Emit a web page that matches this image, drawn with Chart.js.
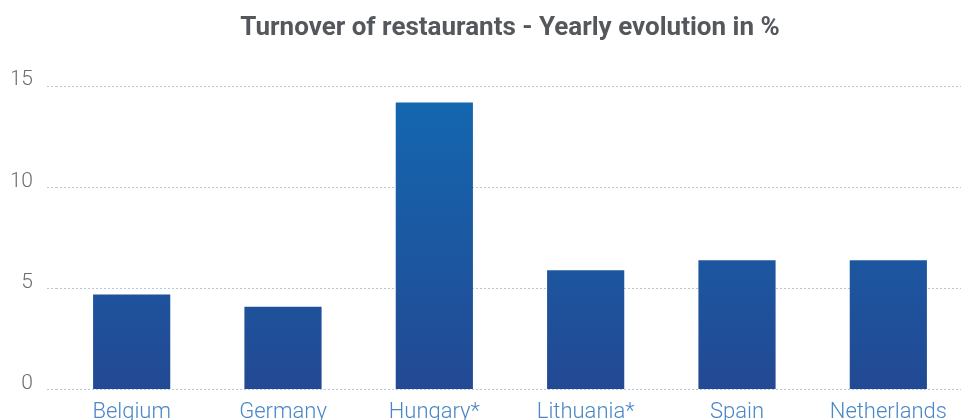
<!DOCTYPE html>
<html>
<head>
<meta charset="utf-8">
<script src="https://cdn.jsdelivr.net/npm/chart.js@4"></script>
<style>
  html, body { margin: 0; padding: 0; background: #fff; overflow: hidden; }
  #wrap { width: 964px; height: 437px; }
</style>
</head>
<body>
<div id="wrap"><canvas id="turnover-chart" width="964" height="437"></canvas></div>
<script>
// Turnover of restaurants — yearly evolution in %
const countries = ['Belgium', 'Germany', 'Hungary*', 'Lithuania*', 'Spain', 'Netherlands']
const growth = [4.7, 4.1, 14.2, 5.9, 6.4, 6.4]
const yMin = 0
const yMax = 15
const yStep = 5

// vertical gradient over the plot area, lighter at the top
function barFill(context) {
  const { ctx, chartArea } = context.chart
  if (!chartArea) return '#1c58a0'
  const g = ctx.createLinearGradient(0, chartArea.top, 0, chartArea.bottom)
  g.addColorStop(0, '#1368b1')
  g.addColorStop(1, '#234993')
  return g
}

new Chart(document.getElementById('turnover-chart'), {
  type: 'bar',
  data: {
    labels: countries,
    datasets: [{
      data: growth,
      backgroundColor: barFill,
      borderWidth: 0,
      categoryPercentage: 1,
      barPercentage: 0.51,
    }],
  },
  options: {
    responsive: false,
    animation: false,
    layout: { padding: { left: 12, right: 0, top: 0, bottom: 9 } },
    plugins: {
      legend: { display: false },
      tooltip: { enabled: false },
      title: {
        display: true,
        fullSize: false,
        text: 'Turnover of restaurants - Yearly evolution in %',
        color: '#54585d',
        font: { family: 'Roboto', size: 26, weight: 'bold' },
        padding: { top: 13, bottom: 42 },
      },
    },
    scales: {
      x: {
        grid: { display: false },
        border: { display: false },
        ticks: { color: '#4a87c6', font: { family: 'Roboto', size: 22, weight: '300' }, padding: 2, maxRotation: 0 },
      },
      y: {
        min: yMin,
        max: yMax,
        afterFit: s => { s.width = 44 },
        border: { display: false, dash: [2, 2] },
        grid: { color: '#b3c9d9', tickColor: '#b3c9d9', tickLength: 9, tickBorderDash: [2, 2] },
        ticks: {
          stepSize: yStep,
          color: '#6b6d70',
          padding: 14,
          labelOffset: -6,
          font: { family: 'Roboto', size: 21, weight: '300' },
        },
      },
    },
  },
})
</script>
</body>
</html>
